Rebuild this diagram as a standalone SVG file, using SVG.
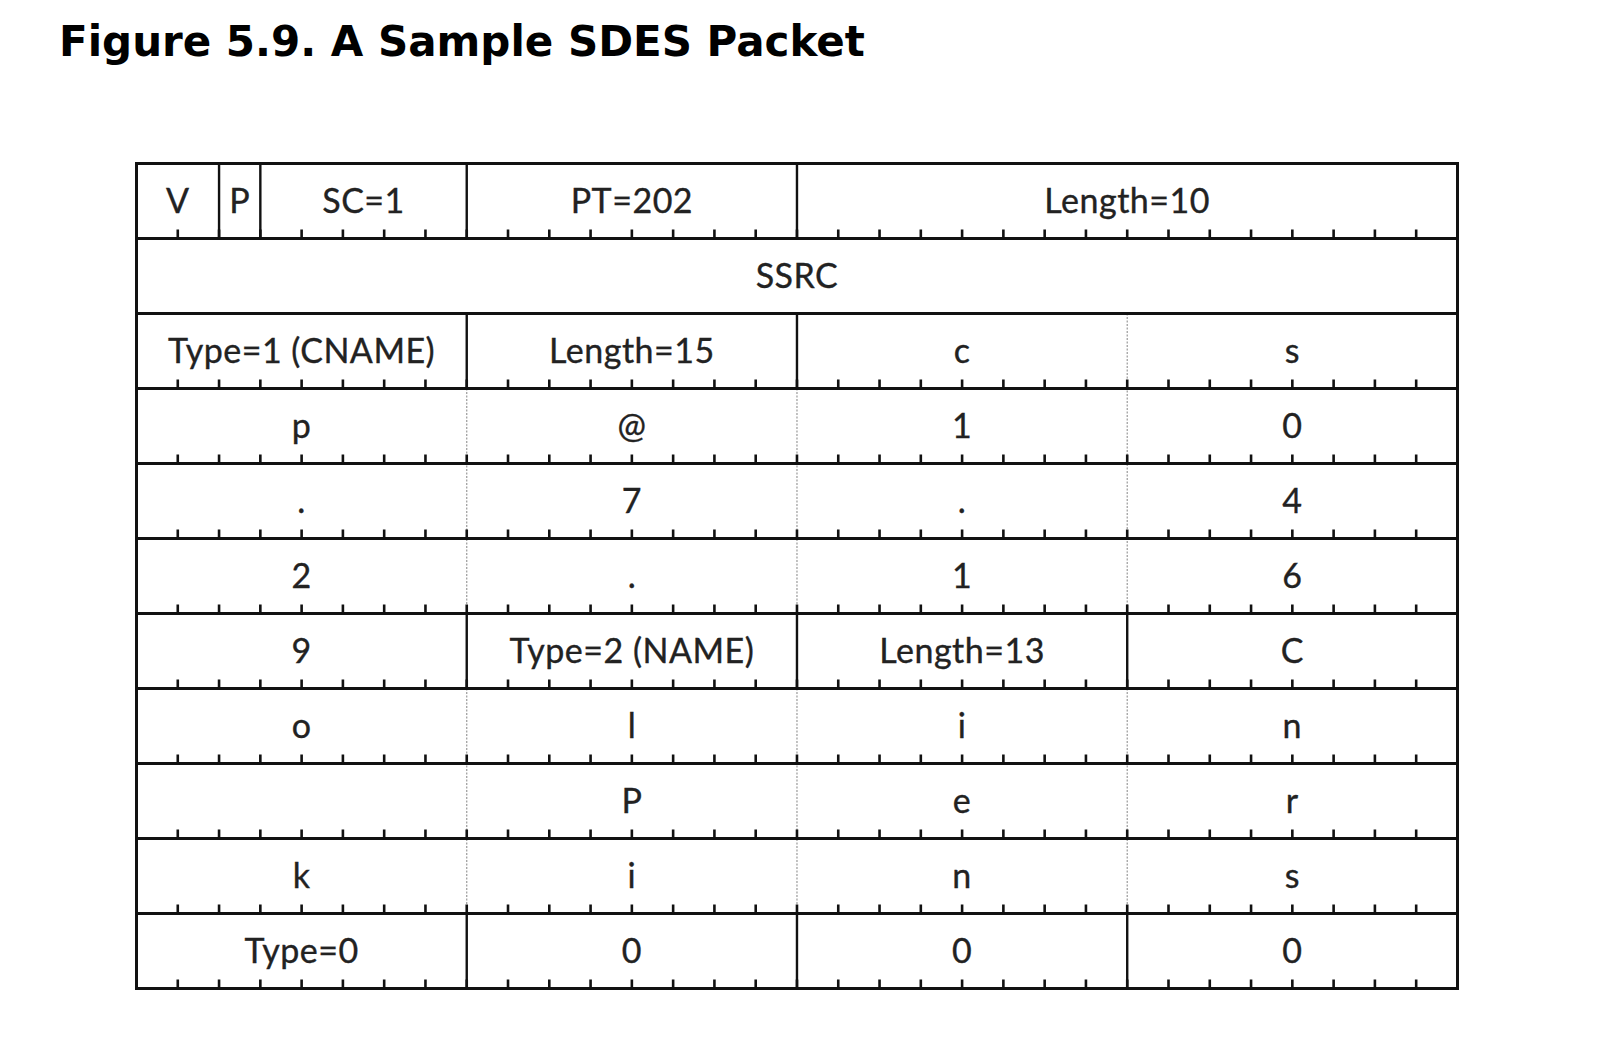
<svg xmlns="http://www.w3.org/2000/svg" xmlns:xlink="http://www.w3.org/1999/xlink" width="1604" height="1054" viewBox="0 0 1604 1054">
<style>
.title{font-family:"DejaVu Sans",Verdana,sans-serif;font-weight:bold;font-size:42px;fill:#000}
.t{font-family:Lato,"Open Sans",sans-serif;font-size:34px;letter-spacing:0.5px;fill:#222;stroke:#222;stroke-width:0.35;text-anchor:middle}
.h{stroke:#111;stroke-width:2.8;fill:none}
.v{stroke:#111;stroke-width:2.4;fill:none}
.d{stroke:#999;stroke-width:1.2;stroke-dasharray:2 1.5;fill:none}
.tk{stroke:#111;stroke-width:2.6;fill:none}
</style>
<defs>
<path id="ticks" class="tk" d="M177.78 0v-9M219.06 0v-9M260.34 0v-9M301.62 0v-9M342.9 0v-9M384.18 0v-9M425.46 0v-9M466.74 0v-9M508.02 0v-9M549.3 0v-9M590.58 0v-9M631.86 0v-9M673.14 0v-9M714.42 0v-9M755.7 0v-9M796.98 0v-9M838.26 0v-9M879.54 0v-9M920.82 0v-9M962.1 0v-9M1003.38 0v-9M1044.66 0v-9M1085.94 0v-9M1127.22 0v-9M1168.5 0v-9M1209.78 0v-9M1251.06 0v-9M1292.34 0v-9M1333.62 0v-9M1374.9 0v-9M1416.18 0v-9"/>
</defs>
<rect width="1604" height="1054" fill="#fff"/>
<text class="title" x="59" y="56">Figure 5.9. A Sample SDES Packet</text>
<g id="grid">
<path class="d" d="M466.74 388.5V613.5M466.74 688.5V913.5M796.98 388.5V613.5M796.98 688.5V913.5M1127.22 313.5V613.5M1127.22 688.5V913.5"/>
<path class="v" d="M219.06 163.5V238.5M260.34 163.5V238.5M466.74 163.5V238.5M466.74 313.5V388.5M466.74 613.5V688.5M466.74 913.5V988.5M796.98 163.5V238.5M796.98 313.5V388.5M796.98 613.5V688.5M796.98 913.5V988.5M1127.22 613.5V688.5M1127.22 913.5V988.5"/>
<path class="h" d="M136.5 238.5H1457.5M136.5 313.5H1457.5M136.5 388.5H1457.5M136.5 463.5H1457.5M136.5 538.5H1457.5M136.5 613.5H1457.5M136.5 688.5H1457.5M136.5 763.5H1457.5M136.5 838.5H1457.5M136.5 913.5H1457.5"/>
<use xlink:href="#ticks" y="238.5"/>
<use xlink:href="#ticks" y="388.5"/>
<use xlink:href="#ticks" y="463.5"/>
<use xlink:href="#ticks" y="538.5"/>
<use xlink:href="#ticks" y="613.5"/>
<use xlink:href="#ticks" y="688.5"/>
<use xlink:href="#ticks" y="763.5"/>
<use xlink:href="#ticks" y="838.5"/>
<use xlink:href="#ticks" y="913.5"/>
<use xlink:href="#ticks" y="988.5"/>
<rect x="136.5" y="163.5" width="1321" height="825" fill="none" stroke="#111" stroke-width="3"/>
</g>
<g id="row1">
<text class="t" x="177.8" y="212.5">V</text>
<text class="t" x="239.7" y="212.5">P</text>
<text class="t" x="363.5" y="212.5">SC=1</text>
<text class="t" x="631.9" y="212.5">PT=202</text>
<text class="t" x="1127.2" y="212.5">Length=10</text>
</g>
<g id="row2"><text class="t" x="797" y="288">SSRC</text></g>
<g id="row3">
<text class="t" x="301.6" y="362.5">Type=1 (CNAME)</text>
<text class="t" x="631.9" y="362.5">Length=15</text>
<text class="t" x="962.1" y="362.5">c</text>
<text class="t" x="1292.3" y="362.5">s</text>
</g>
<g id="row4">
<text class="t" x="301.6" y="437.5">p</text>
<text class="t" x="631.9" y="437.5">@</text>
<text class="t" x="962.1" y="437.5">1</text>
<text class="t" x="1292.3" y="437.5">0</text>
</g>
<g id="row5">
<text class="t" x="301.6" y="512.5">.</text>
<text class="t" x="631.9" y="512.5">7</text>
<text class="t" x="962.1" y="512.5">.</text>
<text class="t" x="1292.3" y="512.5">4</text>
</g>
<g id="row6">
<text class="t" x="301.6" y="587.5">2</text>
<text class="t" x="631.9" y="587.5">.</text>
<text class="t" x="962.1" y="587.5">1</text>
<text class="t" x="1292.3" y="587.5">6</text>
</g>
<g id="row7">
<text class="t" x="301.6" y="662.5">9</text>
<text class="t" x="631.9" y="662.5">Type=2 (NAME)</text>
<text class="t" x="962.1" y="662.5">Length=13</text>
<text class="t" x="1292.3" y="662.5">C</text>
</g>
<g id="row8">
<text class="t" x="301.6" y="737.5">o</text>
<text class="t" x="631.9" y="737.5">l</text>
<text class="t" x="962.1" y="737.5">i</text>
<text class="t" x="1292.3" y="737.5">n</text>
</g>
<g id="row9">
<text class="t" x="631.9" y="812.5">P</text>
<text class="t" x="962.1" y="812.5">e</text>
<text class="t" x="1292.3" y="812.5">r</text>
</g>
<g id="row10">
<text class="t" x="301.6" y="887.5">k</text>
<text class="t" x="631.9" y="887.5">i</text>
<text class="t" x="962.1" y="887.5">n</text>
<text class="t" x="1292.3" y="887.5">s</text>
</g>
<g id="row11">
<text class="t" x="301.6" y="962.5">Type=0</text>
<text class="t" x="631.9" y="962.5">0</text>
<text class="t" x="962.1" y="962.5">0</text>
<text class="t" x="1292.3" y="962.5">0</text>
</g>
</svg>
